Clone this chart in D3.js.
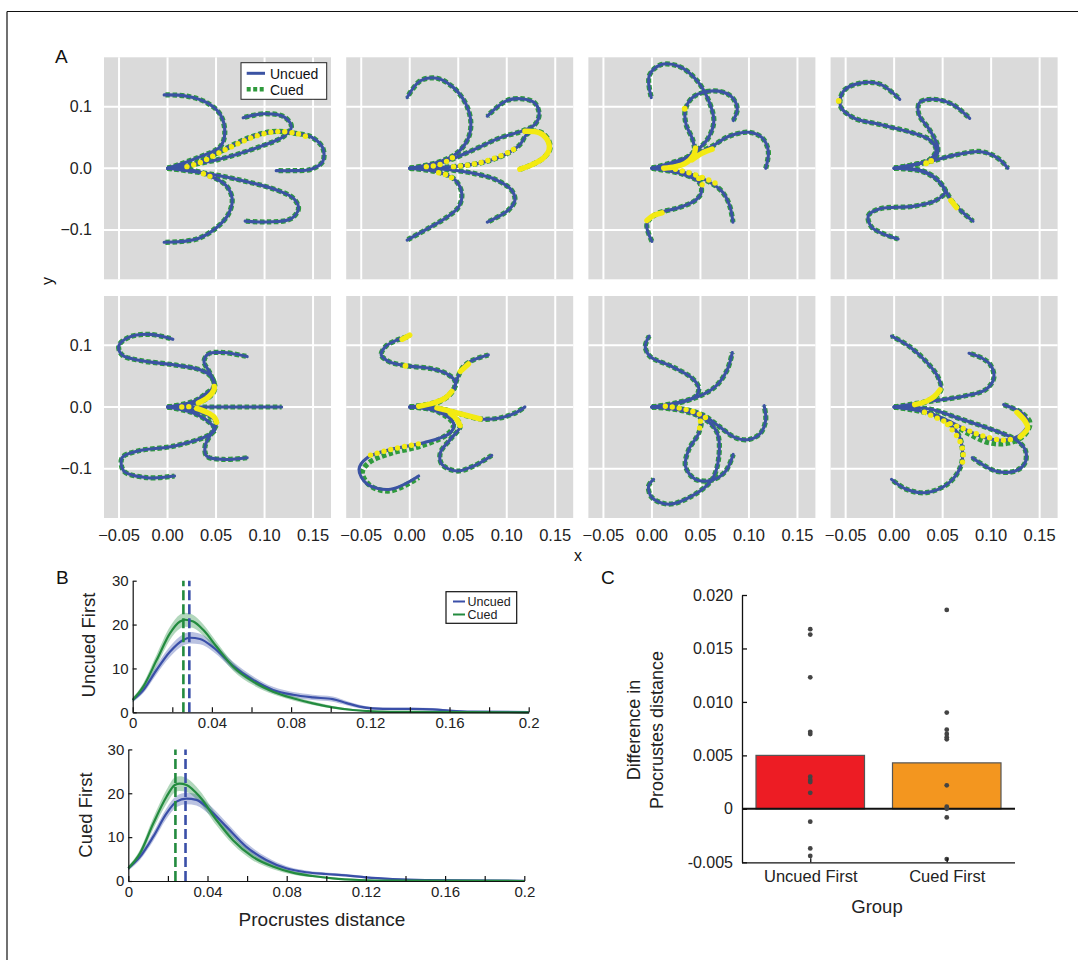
<!DOCTYPE html>
<html><head><meta charset="utf-8">
<script src="https://cdn.jsdelivr.net/npm/d3@7"></script>
<style>body{margin:0;background:#fff} svg{display:block}</style>
</head><body>
<svg id="c" width="1078" height="960"></svg>
<script>
// ---------------- Panel A data (trajectories, data coords) ----------------
const facet1 = [
 [[0,0],[0.034,0.019],[0.0545,0.0355],[0.059,0.057],[0.0545,0.087],[0.041,0.106],[0.020,0.117],[-0.0035,0.119]],
 [[0,0],[0.051,0.0137],[0.096,0.0355],[0.120,0.052],[0.1277,0.068],[0.120,0.0835],[0.0994,0.0885],[0.078,0.082]],
 [[0,0],[0.020,0.0027],[0.0373,0.0137],[0.0545,0.0273],[0.075,0.0437],[0.096,0.056],[0.113,0.060],[0.130,0.057],[0.148,0.051],[0.160,0.033],[0.160,0.011],[0.148,-0.0016],[0.130,-0.0038],[0.112,-0.0038]],
 [[0,0],[0.044,-0.0093],[0.082,-0.0218],[0.113,-0.0355],[0.130,-0.049],[0.135,-0.0655],[0.127,-0.082],[0.103,-0.087],[0.080,-0.0857]],
 [[0,0],[0.027,-0.0038],[0.044,-0.0126],[0.060,-0.0273],[0.0666,-0.049],[0.063,-0.0737],[0.051,-0.0955],[0.030,-0.1147],[-0.0035,-0.120]]
];
const facet2 = [
 [[0,0],[0.0315,0.011],[0.0486,0.0246],[0.060,0.0475],[0.063,0.0737],[0.058,0.104],[0.045,0.131],[0.028,0.146],[0.011,0.142],[-0.0027,0.1147]],
 [[0,0],[0.0315,0.0082],[0.0657,0.030],[0.0923,0.049],[0.117,0.061],[0.129,0.071],[0.1334,0.087],[0.129,0.1057],[0.117,0.1125],[0.100,0.1098],[0.080,0.0846]],
 [[0,0],[0.0451,0.0027],[0.0759,0.0098],[0.0999,0.0235],[0.1135,0.0382],[0.1204,0.0546],[0.1272,0.0601],[0.1368,0.0573],[0.1436,0.0437],[0.1443,0.030],[0.1375,0.0164],[0.1255,0.0055],[0.1135,-0.0016]],
 [[0,0],[0.0315,-0.0011],[0.0657,-0.0082],[0.0896,-0.0191],[0.105,-0.0355],[0.1084,-0.0519],[0.1016,-0.068],[0.080,-0.0874]],
 [[0,0],[0.0315,-0.0071],[0.0469,-0.0191],[0.0537,-0.041],[0.0503,-0.0628],[0.0383,-0.0792],[0.0212,-0.0955],[-0.0027,-0.1163]]
];
const facet3 = [
 [[0,0],[0.0276,0.011],[0.0449,0.0273],[0.058,0.049],[0.0638,0.0764],[0.0593,0.1065],[0.0466,0.142],[0.0276,0.1654],[0.0086,0.1676],[-0.0028,0.150],[-0.0007,0.1147]],
 [[0,0],[0.0242,0.0082],[0.0431,0.0273],[0.042,0.0464],[0.0352,0.071],[0.0345,0.0955],[0.0431,0.1163],[0.0638,0.1256],[0.0811,0.1174],[0.088,0.0966],[0.0838,0.0775]],
 [[0,0],[0.0345,0.0164],[0.0604,0.0344],[0.0794,0.0519],[0.100,0.0584],[0.1139,0.0491],[0.120,0.0273],[0.1173,0]],
 [[0,0],[0.0345,-0.0071],[0.0587,-0.0218],[0.0725,-0.0382],[0.080,-0.060],[0.0835,-0.0874]],
 [[0,0],[0.031,-0.0093],[0.0483,-0.0218],[0.051,-0.0382],[0.0449,-0.0519],[0.0276,-0.0639],[0.0052,-0.0737],[-0.0052,-0.090],[0,-0.1185]]
];
const facet4 = [
 [[0,0],[0.0194,0.0055],[0.0364,0.0137],[0.0432,0.0301],[0.0364,0.0464],[0.0194,0.0573],[-0.0146,0.071],[-0.0418,0.0819],[-0.0554,0.101],[-0.052,0.1256],[-0.0350,0.1381],[-0.0146,0.1365],[0.0058,0.1119]],
 [[0,0],[0.0296,0.0093],[0.0432,0.0191],[0.0449,0.0355],[0.0364,0.0628],[0.0255,0.0874],[0.0262,0.1065],[0.0398,0.112],[0.060,0.1038],[0.0779,0.0808]],
 [[0,0],[0.0364,0.0109],[0.0636,0.0218],[0.0874,0.0273],[0.101,0.0218],[0.1112,0.0109],[0.1173,0]],
 [[0,0],[0.0262,-0.0027],[0.0432,-0.0164],[0.0527,-0.0355],[0.0602,-0.0546],[0.0704,-0.071],[0.0813,-0.0857]],
 [[0,0],[0.0296,-0.0055],[0.0466,-0.0218],[0.0527,-0.0382],[0.0432,-0.0519],[0.0194,-0.0617],[-0.0146,-0.0655],[-0.0265,-0.0764],[-0.0231,-0.0955],[0.0041,-0.1147]]
];
const facet5 = [
 [[0,0],[0.0267,0.0091],[0.0404,0.0226],[0.0479,0.0334],[0.0455,0.0484],[0.0335,0.0603],[0.0062,0.0684],[-0.028,0.0753],[-0.0469,0.0845],[-0.0503,0.099],[-0.040,0.113],[-0.0178,0.1178],[0.0055,0.1098]],
 [[0,0],[0.030,0.0065],[0.0438,0.0172],[0.0489,0.0307],[0.0438,0.0549],[0.0376,0.0737],[0.0421,0.0861],[0.0575,0.0883],[0.0821,0.0818]],
 [[0,0],[0.0609,0],[0.1176,0]],
 [[0,0],[0.0267,-0.0054],[0.0438,-0.0151],[0.0506,-0.0258],[0.0455,-0.0419],[0.0387,-0.0635],[0.0404,-0.0796],[0.0575,-0.085],[0.0821,-0.0823]],
 [[0,0],[0.0267,-0.0097],[0.0438,-0.0258],[0.0489,-0.0366],[0.0404,-0.0473],[0.0062,-0.0635],[-0.0315,-0.0716],[-0.0469,-0.0823],[-0.0451,-0.1038],[-0.0212,-0.1146],[0.0072,-0.1119]]
];
const facet6 = [
 [[0,0],[0.0246,0.0065],[0.0383,0.0161],[0.0451,0.028],[0.0469,0.0414],[0.0383,0.0538],[0.0212,0.0624],[-0.0027,0.0667],[-0.0215,0.0737],[-0.0294,0.0845],[-0.025,0.0979],[-0.013,0.1087],[0,0.1151]],
 [[0,0],[0.0315,0.0091],[0.0451,0.028],[0.0485,0.0441],[0.0554,0.0656],[0.0657,0.0764],[0.081,0.0845]],
 [[0,0],[0.028,-0.0016],[0.0486,-0.0097],[0.0725,-0.0194],[0.093,-0.0178],[0.1101,-0.0086],[0.1187,0]],
 [[0,0],[0.0315,-0.0054],[0.0469,-0.0178],[0.052,-0.0312],[0.0417,-0.0527],[0.0315,-0.0743],[0.0332,-0.0931],[0.0486,-0.1038],[0.0657,-0.0958],[0.0845,-0.0785]],
 [[0,0],[0.028,-0.007],[0.0451,-0.0258],[0.0417,-0.042],[0.0144,-0.0581],[-0.0198,-0.0689],[-0.0438,-0.0823],[-0.0523,-0.1012],[-0.0438,-0.1253],[-0.0198,-0.1334],[0.0092,-0.1119]]
];
const facet7 = [
 [[0,0],[0.0276,0.0065],[0.0449,0.0172],[0.0483,0.0307],[0.0414,0.0468],[0.0207,0.0656],[-0.0017,0.0818],[-0.0069,0.0979],[-0.0028,0.1151]],
 [[0,0],[0.0242,0.0065],[0.0483,0.0172],[0.0656,0.0334],[0.0776,0.0603],[0.0828,0.0882]],
 [[0,0],[0.0276,-0.0022],[0.0518,-0.0124],[0.069,-0.0312],[0.0863,-0.05],[0.100,-0.0527],[0.1121,-0.042],[0.1173,-0.0204],[0.1156,0.0022]],
 [[0,0],[0.031,-0.0043],[0.05,-0.0178],[0.0483,-0.042],[0.0380,-0.0689],[0.0345,-0.0958],[0.0449,-0.1173],[0.0621,-0.1184],[0.0759,-0.104],[0.0838,-0.0769]],
 [[0,0],[0.0345,-0.007],[0.0552,-0.0204],[0.0673,-0.042],[0.069,-0.0796],[0.0621,-0.1173],[0.0414,-0.1442],[0.0173,-0.1576],[0,-0.1469],[-0.0035,-0.128],[0.0017,-0.1173]]
];
const facet8 = [
 [[0,0],[0.0228,0.0038],[0.0398,0.0145],[0.0483,0.028],[0.0449,0.0495],[0.033,0.0737],[0.016,0.0979],[-0.0027,0.1151]],
 [[0,0],[0.0364,0.0091],[0.0704,0.0172],[0.0942,0.028],[0.1027,0.0468],[0.0993,0.0683],[0.0908,0.0791],[0.0772,0.0872]],
 [[0,0],[0.0364,-0.0032],[0.0704,-0.0204],[0.101,-0.0366],[0.1248,-0.0527],[0.1350,-0.0689],[0.135,-0.0904],[0.1248,-0.1038],[0.1044,-0.1038],[0.0806,-0.0823]],
 [[0,0],[0.0364,-0.0097],[0.0602,-0.0258],[0.0772,-0.0393],[0.0976,-0.0516],[0.118,-0.0527],[0.1316,-0.0430],[0.1377,-0.0258],[0.1316,-0.0097],[0.1129,0.0038]],
 [[0,0],[0.0296,-0.007],[0.05,-0.0204],[0.0653,-0.042],[0.0704,-0.0689],[0.0687,-0.0958],[0.0568,-0.1227],[0.033,-0.1388],[0.0126,-0.1334],[-0.0027,-0.1173]]
];
// cued trajectories that visibly depart from the uncued ones (facet index, trajectory index)
const cuedAlt = [
 {facet:5, traj:4, pts:[[0,0],[0.028,-0.007],[0.0451,-0.0285],[0.0383,-0.0447],[0.0109,-0.0635],[-0.0198,-0.0753],[-0.0421,-0.0904],[-0.0489,-0.1066],[-0.0404,-0.128],[-0.0198,-0.1361],[0.0092,-0.1146]]},
 {facet:7, traj:3, pts:[[0,0],[0.0364,-0.0108],[0.0602,-0.028],[0.0772,-0.0436],[0.0976,-0.058],[0.118,-0.0585],[0.1340,-0.046],[0.1400,-0.0258],[0.1316,-0.0097],[0.1129,0.0038]]}
];
// yellow highlighted segments per facet
const yellow1 = [
 {solid:false, pts:[[0.020,0.0027],[0.0338,0.0093],[0.0511,0.0235],[0.0718,0.0393],[0.0925,0.0530],[0.1132,0.0595],[0.1339,0.0562],[0.1442,0.0508]]},
 {solid:false, pts:[[0.037,-0.0088],[0.046,-0.0145]]}
];
const yellow2 = [
 {solid:false, pts:[[0.0171,0.0027],[0.0298,0.0055],[0.0417,0.0147],[0.0479,0.0218]]},
 {solid:false, pts:[[0.0451,0.0027],[0.0657,0.0066],[0.0845,0.0147],[0.1033,0.0273],[0.1118,0.0355]]},
 {solid:true, pts:[[0.1187,0.0601],[0.1341,0.0573],[0.1426,0.0437],[0.1436,0.030],[0.1375,0.0164],[0.1255,0.0055],[0.1135,-0.0016]]},
 {solid:false, pts:[[0.0298,-0.0071],[0.0383,-0.0109],[0.0486,-0.0207]]}
];
const yellow3 = [
 {solid:true, pts:[[0.0121,0],[0.0242,0.0027],[0.0345,0.0082],[0.0431,0.0218],[0.0449,0.0328]]},
 {solid:true, pts:[[0.0414,0.0137],[0.0518,0.0246],[0.0621,0.0311]]},
 {solid:false, pts:[[0.0242,-0.0016],[0.038,-0.0071],[0.050,-0.0137],[0.0604,-0.0202],[0.069,-0.0273]]},
 {solid:false, pts:[[0.0483,-0.0164],[0.0518,-0.0273],[0.0511,-0.0355]]},
 {solid:true, pts:[[-0.0052,-0.0846],[0.0017,-0.0764],[0.0104,-0.0721]]},
 {solid:true, pts:[[0.0338,0.0966]]}
];
const yellow4 = [
 {solid:true, pts:[[-0.0571,0.1092]]},
 {solid:true, pts:[[0.033,0.0082]]},
 {solid:true, pts:[[0.0381,0.012]]},
 {solid:true, pts:[[0.0585,-0.0519],[0.0643,-0.0639]]}
];
const yellow5 = [
 {solid:false, pts:[[0.0147,0],[0.0284,0.0011]]},
 {solid:true, pts:[[0.0318,0.0065],[0.0421,0.0161],[0.0479,0.028],[0.0482,0.0334]]},
 {solid:true, pts:[[0.0301,-0.0022],[0.0404,-0.0086],[0.0479,-0.0161],[0.0506,-0.0247]]}
];
const yellow6 = [
 {solid:true, pts:[[-0.0079,0.1098],[0,0.1167]]},
 {solid:true, pts:[[-0.0044,0.0667]]},
 {solid:true, pts:[[0.052,0.0576],[0.0605,0.0699]]},
 {solid:true, pts:[[0.0092,0.0011],[0.0246,0.0065],[0.0366,0.0145],[0.0434,0.0253]]},
 {solid:true, pts:[[0.028,-0.0016],[0.0486,-0.0097],[0.0725,-0.0194]]},
 {solid:true, pts:[[0.0417,-0.0097],[0.0486,-0.0204],[0.052,-0.0301]]},
 {solid:false, pts:[[-0.0404,-0.078],[-0.0198,-0.0689],[0.0109,-0.0592]]}
];
const yellow7 = [
 {solid:false, pts:[[0.0138,0.0011],[0.0276,-0.0016],[0.0414,-0.007],[0.050,-0.0124],[0.0587,-0.0204]]},
 {solid:false, pts:[[0.050,-0.0231],[0.0493,-0.0323],[0.0483,-0.042]]}
];
const yellow8 = [
 {solid:true, pts:[[0.0211,0.0038],[0.033,0.0091],[0.0415,0.0172],[0.0473,0.028]]},
 {solid:false, pts:[[0.0313,-0.0086],[0.0517,-0.0231],[0.0721,-0.0355],[0.0925,-0.0473],[0.1129,-0.0538],[0.1265,-0.050]]},
 {solid:false, pts:[[0.0551,-0.0285],[0.067,-0.0527],[0.0711,-0.0742],[0.0704,-0.0904]]},
 {solid:true, pts:[[0.1265,-0.0086],[0.135,-0.0231],[0.1377,-0.0339],[0.1299,-0.0484]]}
];
const xTicksA = [-0.05, 0, 0.05, 0.10, 0.15];
const xTickLabelsA = ["\u22120.05","0.00","0.05","0.10","0.15"];
const yTicksA = [-0.1, 0, 0.1];
const yTickLabelsA = ["\u22120.1","0.0","0.1"];
const legendA = ["Uncued","Cued"];

// ---------------- Panel B data: [x, density, half-width of band] ----------------
const uf_uncued = [[0,2.8,0.5],[0.0054,5.1,0.7],[0.0121,9.7,1.0],[0.0188,13.8,1.2],[0.0255,16.5,1.3],[0.029,17.0,1.3],[0.034,16.7,1.2],[0.0407,14.8,1.0],[0.0507,10.6,0.9],[0.0608,7.4,0.8],[0.0709,5.1,0.7],[0.081,4.0,0.6],[0.091,3.4,0.6],[0.101,3.0,0.6],[0.108,2.1,0.5],[0.1146,1.3,0.4],[0.1213,0.9,0.3],[0.1314,0.76,0.3],[0.1415,0.76,0.3],[0.1515,0.68,0.3],[0.16,0.38,0.2],[0.1717,0.15,0.1],[0.2,0.05,0.05]];
const uf_cued = [[0,2.8,0.5],[0.0054,5.9,0.8],[0.0121,11.9,1.3],[0.0188,18.0,1.5],[0.0239,20.7,1.6],[0.0264,21.1,1.6],[0.0306,20.7,1.5],[0.0356,18.8,1.3],[0.0423,15.0,1.1],[0.0507,10.4,0.9],[0.0608,7.0,0.8],[0.0709,4.7,0.6],[0.081,3.2,0.5],[0.091,2.05,0.4],[0.101,1.14,0.3],[0.1112,0.53,0.2],[0.1213,0.23,0.15],[0.14,0.08,0.05],[0.2,0,0]];
const cf_uncued = [[0,2.9,0.5],[0.0059,5.5,0.7],[0.0126,10.1,1.0],[0.0193,15.4,1.2],[0.0243,18.1,1.3],[0.0294,18.8,1.3],[0.0344,18.5,1.3],[0.0411,16.2,1.1],[0.0495,12.4,1.0],[0.0596,7.8,0.9],[0.0696,4.8,0.7],[0.0797,2.9,0.5],[0.0898,2.0,0.4],[0.0998,1.6,0.35],[0.1099,1.3,0.3],[0.12,0.84,0.25],[0.1334,0.46,0.2],[0.15,0.23,0.1],[0.2,0.05,0.05]];
const cf_cued = [[0,2.9,0.5],[0.0059,6.3,0.8],[0.0126,13.1,1.3],[0.0193,19.2,1.6],[0.0235,21.9,1.7],[0.026,22.2,1.7],[0.0294,21.9,1.6],[0.0361,19.2,1.4],[0.0445,13.9,1.2],[0.0529,9.3,1.0],[0.0629,5.5,0.8],[0.073,3.3,0.6],[0.083,1.9,0.4],[0.0931,1.14,0.3],[0.1032,0.6,0.2],[0.1166,0.23,0.1],[0.1334,0.08,0.05],[0.2,0,0]];
const medians = {ufUncued:0.0286, ufCued:0.0256, cfUncued:0.0289, cfCued:0.0238};
const xTicksB = [0,0.02,0.04,0.06,0.08,0.10,0.12,0.14,0.16,0.18,0.20];
const xTickLabelsB = ["0","","0.04","","0.08","","0.12","","0.16","","0.2"];
const yTicksB = [0,10,20,30];

// ---------------- Panel C data ----------------
const groups = ["Uncued First","Cued First"];
const groupMeans = [0.0050, 0.0043];
const uncuedFirstPts = [0.0168,0.0163,0.0123,0.0072,0.0070,0.0030,0.0027,0.0025,0.0015,-0.0012,-0.0037,-0.0044];
const cuedFirstPts = [0.0186,0.0090,0.0074,0.0070,0.0067,0.0065,0.0022,0.0002,0.0000,-0.0008,-0.0047];
const yTicksC = [-0.005,0,0.005,0.010,0.015,0.020];
const yTickLabelsC = ["-0.005","0","0.005","0.010","0.015","0.020"];

// ---------------- drawing ----------------
const FONT = '"Liberation Sans", Arial, Helvetica, sans-serif';
const svg = d3.select("#c").style("font-family", FONT);
const BLUE = "#3b53a3", GREEN = "#2f9a3c", YELLOW = "#f3ea12", GRAY = "#dadada";

// frame
svg.append("line").attr("x1",7).attr("x2",1078).attr("y1",11.5).attr("y2",11.5).attr("stroke","#111").attr("stroke-width",1.2);
svg.append("line").attr("x1",7).attr("x2",7).attr("y1",11.5).attr("y2",960).attr("stroke","#111").attr("stroke-width",1.2);

// panel letters
[["A",55,63],["B",56,584],["C",601,584]].forEach(([t,x,y])=>{
  svg.append("text").attr("x",x).attr("y",y).attr("font-size",19).attr("fill","#111").text(t);
});

const facets = [facet1,facet2,facet3,facet4,facet5,facet6,facet7,facet8];
const yellows = [yellow1,yellow2,yellow3,yellow4,yellow5,yellow6,yellow7,yellow8];
const FW = 227, FH = 222;
facets.forEach((trajs, i) => {
  const r = Math.floor(i/4), c = i % 4;
  const left = 104 + c*242.2, top = 57.3 + r*238.7;
  const x = d3.scaleLinear().domain([-0.0655, 0.1685]).range([left, left+FW]);
  const y = d3.scaleLinear().domain([-0.18, 0.18]).range([top+FH, top]);
  const g = svg.append("g");
  g.append("rect").attr("x",left).attr("y",top).attr("width",FW).attr("height",FH).attr("fill",GRAY);
  xTicksA.forEach(t => g.append("line").attr("x1",x(t)).attr("x2",x(t)).attr("y1",top).attr("y2",top+FH).attr("stroke","#fff").attr("stroke-width",2));
  yTicksA.forEach(t => g.append("line").attr("y1",y(t)).attr("y2",y(t)).attr("x1",left).attr("x2",left+FW).attr("stroke","#fff").attr("stroke-width",2));
  const line = d3.line().x(d=>x(d[0])).y(d=>y(d[1])).curve(d3.curveCatmullRom.alpha(0.5));
  trajs.forEach((t, j) => {
    const alt = cuedAlt.find(a => a.facet === i && a.traj === j);
    g.append("path").attr("d", line(alt ? alt.pts : t)).attr("fill","none")
      .attr("stroke",GREEN).attr("stroke-width",5.2).attr("stroke-dasharray","4.5 2.5");
  });
  trajs.forEach(t => {
    g.append("path").attr("d", line(t)).attr("fill","none")
      .attr("stroke",BLUE).attr("stroke-width",3.1).attr("stroke-linecap","round");
  });
  yellows[i].forEach(s => {
    if (s.pts.length === 1) {
      g.append("circle").attr("cx",x(s.pts[0][0])).attr("cy",y(s.pts[0][1])).attr("r",2.9).attr("fill",YELLOW);
    } else {
      const p = g.append("path").attr("d", line(s.pts)).attr("fill","none").attr("stroke",YELLOW)
        .attr("stroke-linecap","round").attr("stroke-width",5.4);
      if (!s.solid) p.attr("stroke-dasharray","0 7");
    }
  });
  if (r === 1) {
    xTicksA.forEach((t,k) => g.append("text").attr("x",x(t)).attr("y",top+FH+23).attr("text-anchor","middle")
      .attr("font-size",16.5).attr("fill","#222").text(xTickLabelsA[k]));
  }
  if (c === 0) {
    yTicksA.forEach((t,k) => g.append("text").attr("x",left-12).attr("y",y(t)+5.5).attr("text-anchor","end")
      .attr("font-size",16).attr("fill","#222").text(yTickLabelsA[k]));
  }
  if (i === 0) {
    const lg = g.append("g");
    lg.append("rect").attr("x",241).attr("y",62.7).attr("width",85.7).attr("height",36.6).attr("fill","#fff").attr("stroke","#222").attr("stroke-width",1);
    lg.append("line").attr("x1",246.7).attr("x2",265).attr("y1",73.3).attr("y2",73.3).attr("stroke",BLUE).attr("stroke-width",3);
    lg.append("line").attr("x1",246.7).attr("x2",265).attr("y1",89.3).attr("y2",89.3).attr("stroke",GREEN).attr("stroke-width",4.5).attr("stroke-dasharray","4 2.5");
    lg.append("text").attr("x",270).attr("y",78.5).attr("font-size",14).attr("fill","#111").text(legendA[0]);
    lg.append("text").attr("x",270).attr("y",94.5).attr("font-size",14).attr("fill","#111").text(legendA[1]);
  }
});
svg.append("text").attr("transform","translate(53,281) rotate(-90)").attr("text-anchor","middle").attr("font-size",16).attr("fill","#111").text("y");
svg.append("text").attr("x",578).attr("y",561).attr("text-anchor","middle").attr("font-size",16).attr("fill","#111").text("x");

// ---- Panel B ----
const BBLUE = "#3a4fa8", BGREEN = "#238b3f";
function densityPlot(x0, y0, uncued, cued, medU, medC, label, labX, labY, legend) {
  const x = d3.scaleLinear().domain([0,0.2]).range([x0, x0+396]);
  const y = d3.scaleLinear().domain([0,30]).range([y0, y0-131.6]);
  const g = svg.append("g");
  const area = d3.area().x(d=>x(d[0])).y0(d=>y(Math.max(0,d[1]-d[2]))).y1(d=>y(d[1]+d[2])).curve(d3.curveMonotoneX);
  const ln = d3.line().x(d=>x(d[0])).y(d=>y(d[1])).curve(d3.curveMonotoneX);
  g.append("path").attr("d",area(uncued)).attr("fill",BBLUE).attr("opacity",0.35);
  g.append("path").attr("d",area(cued)).attr("fill",BGREEN).attr("opacity",0.35);
  g.append("path").attr("d",ln(uncued)).attr("fill","none").attr("stroke",BBLUE).attr("stroke-width",2.2);
  g.append("path").attr("d",ln(cued)).attr("fill","none").attr("stroke",BGREEN).attr("stroke-width",2.2);
  [[medC,BGREEN],[medU,BBLUE]].forEach(([m,col]) => {
    g.append("line").attr("x1",x(m)).attr("x2",x(m)).attr("y1",y(0)).attr("y2",y(30))
      .attr("stroke",col).attr("stroke-width",2.6).attr("stroke-dasharray","10 4");
  });
  const ax = g.append("g").attr("transform",`translate(0,${y0})`)
    .call(d3.axisBottom(x).tickValues(xTicksB).tickFormat((d,k)=>xTickLabelsB[k]).tickSizeInner(-5).tickSizeOuter(0).tickPadding(5));
  const ay = g.append("g").attr("transform",`translate(${x0},0)`)
    .call(d3.axisLeft(y).tickValues(yTicksB).tickFormat(d3.format("d")).tickSizeInner(-4).tickSizeOuter(0).tickPadding(4));
  [ax, ay].forEach(a => {
    a.selectAll("text").attr("font-size",15).attr("fill","#222").attr("font-family",FONT);
    a.selectAll("line,path").attr("stroke","#111").attr("stroke-width",1.2);
  });
  g.append("text").attr("transform",`translate(${labX},${labY}) rotate(-90)`).attr("text-anchor","middle")
    .attr("font-size",18.5).attr("fill","#222").text(label);
  if (legend) {
    g.append("rect").attr("x",446).attr("y",591.7).attr("width",70.7).attr("height",31.6).attr("fill","#fff").attr("stroke","#111").attr("stroke-width",1.2);
    g.append("line").attr("x1",453).attr("x2",465).attr("y1",601.5).attr("y2",601.5).attr("stroke",BBLUE).attr("stroke-width",2);
    g.append("line").attr("x1",453).attr("x2",465).attr("y1",614.5).attr("y2",614.5).attr("stroke",BGREEN).attr("stroke-width",2);
    g.append("text").attr("x",467.5).attr("y",606).attr("font-size",12.5).attr("fill","#222").text(legendA[0]);
    g.append("text").attr("x",467.5).attr("y",619).attr("font-size",12.5).attr("fill","#222").text(legendA[1]);
  }
}
densityPlot(132.7, 712.3, uf_uncued, uf_cued, medians.ufUncued, medians.ufCued, "Uncued First", 95, 645, true);
densityPlot(128.3, 881, cf_uncued, cf_cued, medians.cfUncued, medians.cfCued, "Cued First", 92, 815, false);
svg.append("text").attr("x",322).attr("y",926).attr("text-anchor","middle").attr("font-size",19).attr("fill","#222").text("Procrustes distance");

// ---- Panel C ----
(function(){
  const xC = d3.scalePoint().domain(groups).range([742,1015]).padding(0.5);
  const yC = d3.scaleLinear().domain([-0.005,0.020]).range([862.3,595]);
  const bw = 108.5;
  const g = svg.append("g");
  const colors = ["#ed1c24","#f3961f"];
  groups.forEach((gr,k) => {
    g.append("rect").attr("x",xC(gr)-bw/2).attr("y",yC(groupMeans[k])).attr("width",bw)
      .attr("height",yC(0)-yC(groupMeans[k])).attr("fill",colors[k]).attr("stroke","#555").attr("stroke-width",1.2);
  });
  g.append("line").attr("x1",742).attr("x2",1015).attr("y1",yC(0)).attr("y2",yC(0)).attr("stroke","#111").attr("stroke-width",2);
  [uncuedFirstPts, cuedFirstPts].forEach((pts,k) => {
    pts.forEach(v => g.append("circle").attr("cx",xC(groups[k])).attr("cy",yC(v)).attr("r",2.4).attr("fill","#444"));
  });
  const ay = g.append("g").attr("transform","translate(742,0)")
    .call(d3.axisLeft(yC).tickValues(yTicksC).tickFormat((d,k)=>yTickLabelsC[k]).tickSizeInner(-5).tickSizeOuter(0).tickPadding(9));
  const ax = g.append("g").attr("transform","translate(0,862.3)")
    .call(d3.axisBottom(xC).tickSizeInner(-4).tickSizeOuter(0).tickPadding(8));
  [ax, ay].forEach(a => {
    a.selectAll("text").attr("font-size",16.5).attr("fill","#222").attr("font-family",FONT);
    a.selectAll("line,path").attr("stroke","#111").attr("stroke-width",1.3);
  });
  ay.selectAll("text").attr("font-size",16);
  ax.select(".domain").attr("d","M742,0.5H1015");
  g.append("text").attr("x",877).attr("y",913).attr("text-anchor","middle").attr("font-size",18.5).attr("fill","#222").text("Group");
  g.append("text").attr("transform","translate(640,730) rotate(-90)").attr("text-anchor","middle").attr("font-size",18).attr("fill","#222").text("Difference in");
  g.append("text").attr("transform","translate(663,730) rotate(-90)").attr("text-anchor","middle").attr("font-size",18).attr("fill","#222").text("Procrustes distance");
})();
</script>
</body></html>
